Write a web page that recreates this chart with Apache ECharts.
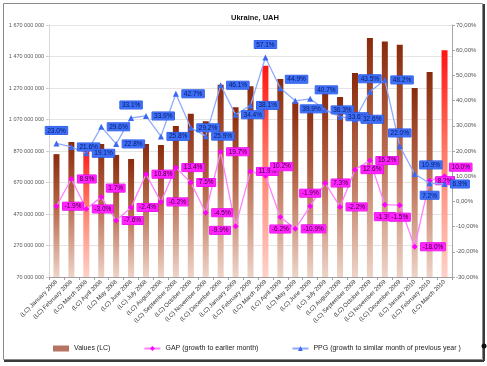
<!DOCTYPE html>
<html>
<head>
<meta charset="utf-8">
<script src="https://cdn.jsdelivr.net/npm/echarts@6/dist/echarts.min.js"></script>
<style>
html,body{margin:0;padding:0;background:#fff;}
#chart{width:487px;height:366px;}
</style>
</head>
<body>
<div id="chart"></div>
<script>
const categories = [
  '(LC) January 2008','(LC) February 2008','(LC) March 2008','(LC) April 2008','(LC) May 2008','(LC) June 2008',
  '(LC) July 2008','(LC) August 2008','(LC) September 2008','(LC) October 2008','(LC) November 2008','(LC) December 2008',
  '(LC) January 2009','(LC) February 2009','(LC) March 2009','(LC) April 2009','(LC) May 2009','(LC) June 2009',
  '(LC) July 2009','(LC) August 2009','(LC) September 2009','(LC) October 2009','(LC) November 2009','(LC) December 2009',
  '(LC) January 2010','(LC) February 2010','(LC) March 2010'
];
const valuesLC = [
  850e6, 927e6, 899e6, 914e6, 845e6, 819e6, 914e6, 908e6, 1029e6, 1107e6, 1059e6, 1291e6,
  1147e6, 1281e6, 1412e6, 1327e6, 1179e6, 1158e6, 1238e6, 1213e6, 1365e6, 1587e6, 1566e6, 1544e6,
  1270e6, 1372e6, 1509e6
];
const gapPct = [
  -1.9, 8.9, -3.0, 1.7, -7.6, -2.4, 10.8, -0.2, 13.4, 7.5, -4.5, 19.7,
  -9.9, 11.9, 10.2, -6.2, -10.9, -1.9, 7.3, -2.2, 12.6, 16.2, -1.3, -1.5,
  -18.0, 8.2, 10.0
];
const ppgPct = [
  23.0, 21.6, 19.1, 29.6, 22.8, 33.1, 33.9, 25.8, 42.7, 29.2, 25.9, 46.1,
  34.4, 38.1, 57.1, 44.9, 39.9, 40.7, 36.3, 33.6, 32.6, 43.5, 48.2, 22.0,
  10.9, 7.2, 6.9
];
const highlightIdx = [2, 14, 26];
const leftTicks = { min: 70e6, max: 1670e6, step: 200e6 };
const rightTicks = { min: -30, max: 70, step: 10 };

// label placement (style only)
const ppgPos = {0:'top',5:'top',14:'top',15:'topright',16:'bottomright',17:'topright',21:'top',23:'top',24:'topright',25:'bottom'};
const gapPos = {3:'topright',12:'left',14:'topright',15:'bottom',17:'top',22:'bottom',23:'bottom',26:'topright'};

function placeLabel(p){
  if (!p) return {position:'right', distance:3};
  if (p==='topright') return {position:'right', distance:2, offset:[0,-9]};
  if (p==='bottomright') return {position:'right', distance:2, offset:[0,8]};
  if (p==='top') return {position:'top', distance:6};
  if (p==='bottom') return {position:'bottom', distance:5};
  if (p==='left') return {position:'left', distance:2, offset:[0,4]};
  return {position:'right'};
}

function fmtBig(v){
  return String(Math.round(v)).replace(/\B(?=(\d{3})+(?!\d))/g,' ');
}
function fmtPct(v){
  return v.toFixed(2).replace('.',',') + '%';
}

const brownGrad = new echarts.graphic.LinearGradient(0,0,0,1,[
  {offset:0,color:'#8a2a0c'},{offset:0.45,color:'#b8694c'},{offset:1,color:'#eed4c8'}
]);
const redGrad = new echarts.graphic.LinearGradient(0,0,0,1,[
  {offset:0,color:'#ff1414'},{offset:0.45,color:'#ff7a66'},{offset:1,color:'#ffd2c8'}
]);

const barData = valuesLC.map((v,i)=> highlightIdx.includes(i)
  ? {value:v, itemStyle:{color:redGrad}} : {value:v});

const baseLbl = {show:true, fontSize:6.5, fontFamily:'Liberation Sans', padding:[1,2,0,2], lineHeight:7};
const ppgData = ppgPct.map((v,i)=>({value:v, label:placeLabel(ppgPos[i])}));
const gapData = gapPct.map((v,i)=>({value:v, label:placeLabel(gapPos[i])}));

const chart = echarts.init(document.getElementById('chart'), null, {renderer:'canvas'});
chart.setOption({
  backgroundColor:'#ffffff',
  animation:false,
  textStyle:{fontFamily:'Liberation Sans'},
  title:{
    text:'Ukraine, UAH', left:226, top:9,
    textStyle:{fontSize:7.5, fontWeight:'bold', color:'#111', fontFamily:'Liberation Sans'}
  },
  grid:{left:49, right:35, top:25, bottom:89},
  legend:{
    left:48, top:340, itemGap:33, itemWidth:16, itemHeight:6,
    textStyle:{fontSize:7, color:'#222', fontFamily:'Liberation Sans'},
    data:[
      {name:'Values (LC)', icon:'rect', itemStyle:{color:'#b87462'}},
      {name:'GAP (growth to earlier month)'},
      {name:'PPG (growth to similar month of previous year )'}
    ]
  },
  xAxis:{
    type:'category', data:categories,
    axisLine:{onZero:false, lineStyle:{color:'#a0a0a0'}},
    axisTick:{show:true, length:3, lineStyle:{color:'#a0a0a0'}},
    axisLabel:{rotate:45, fontSize:6, color:'#333', margin:4, interval:0}
  },
  yAxis:[
    {
      type:'value', min:leftTicks.min, max:leftTicks.max, interval:leftTicks.step,
      axisLine:{show:true, lineStyle:{color:'#d8d8d8'}},
      axisTick:{show:true, length:3, lineStyle:{color:'#d0d0d0'}},
      splitLine:{show:true, lineStyle:{color:'#e4e4e4', width:1}},
      axisLabel:{fontSize:5.5, color:'#555', margin:5, formatter:fmtBig}
    },
    {
      type:'value', min:rightTicks.min, max:rightTicks.max, interval:rightTicks.step,
      position:'right',
      axisLine:{show:true, lineStyle:{color:'#a8a8a8'}},
      axisTick:{show:true, length:3, lineStyle:{color:'#a8a8a8'}},
      splitLine:{show:false},
      axisLabel:{fontSize:6, color:'#555', margin:4, formatter:fmtPct}
    }
  ],
  series:[
    {
      name:'Values (LC)', type:'bar', data:barData, barWidth:6, yAxisIndex:0,
      itemStyle:{color:brownGrad}, clip:true
    },
    {
      name:'GAP (growth to earlier month)', type:'line', data:gapData, yAxisIndex:1,
      symbol:'diamond', symbolSize:6,
      lineStyle:{color:'#ff80ff', width:1.3},
      itemStyle:{color:'#ff00ff'},
      label:Object.assign({}, baseLbl, {
        color:'#3a0036', backgroundColor:'#ff22ff', borderColor:'#e000e0', borderWidth:0.5,
        formatter:p=>p.value.toFixed(1)+'%'
      }),
      z:5
    },
    {
      name:'PPG (growth to similar month of previous year )', type:'line', data:ppgData, yAxisIndex:1,
      symbol:'triangle', symbolSize:6,
      lineStyle:{color:'#8eaaff', width:1.3},
      itemStyle:{color:'#3a68f2'},
      label:Object.assign({}, baseLbl, {
        color:'#0a1a66', backgroundColor:'#3d6ef6', borderColor:'#2a55e0', borderWidth:0.5,
        formatter:p=>p.value.toFixed(1)+'%'
      }),
      z:6
    }
  ],
  graphic:[
    {type:'rect', shape:{x:3.5,y:3.5,width:479,height:356}, style:{fill:'none', stroke:'#8a8a8a', lineWidth:1}, silent:true, z:100},
    {type:'line', shape:{x1:4,y1:361,x2:484,y2:361}, style:{stroke:'#3a3a3a', lineWidth:2}, silent:true, z:100},
    {type:'line', shape:{x1:484,y1:4,x2:484,y2:361}, style:{stroke:'#3a3a3a', lineWidth:2}, silent:true, z:100},
    {type:'circle', shape:{cx:484,cy:346,r:2.5}, style:{fill:'#111'}, silent:true, z:101}
  ]
});
</script>
</body>
</html>
